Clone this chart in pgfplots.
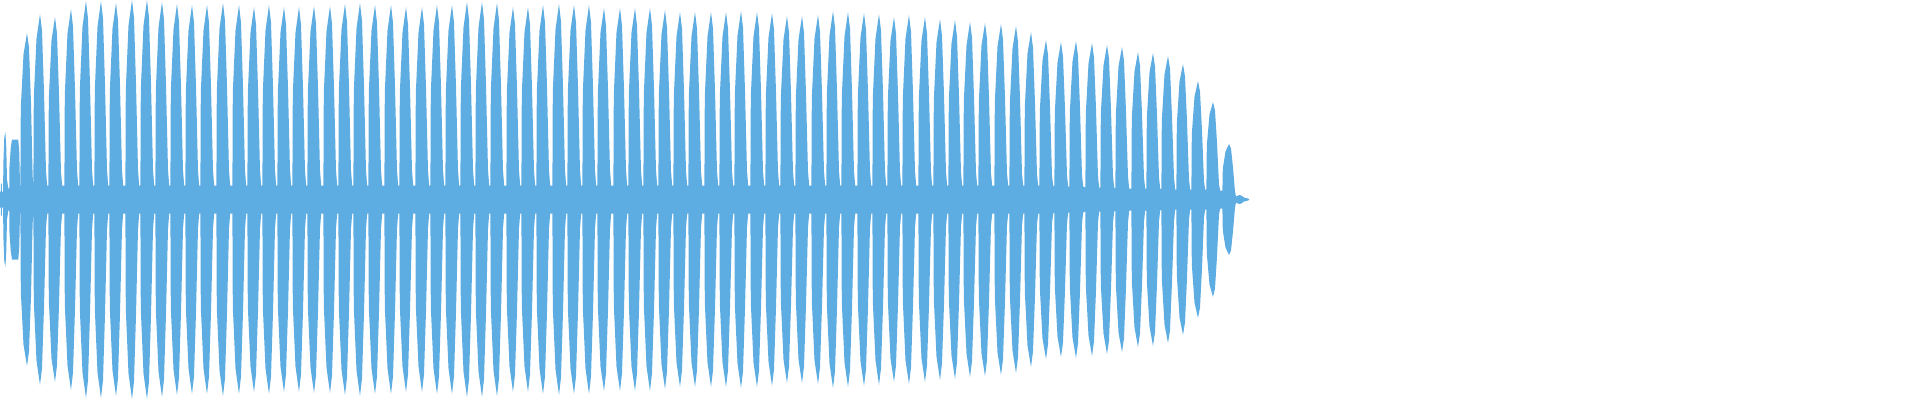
\documentclass[border=0pt]{standalone}
\usepackage{pgfplots}
\pgfplotsset{compat=1.18}
\usepackage{pgfplotstable}
\usepgfplotslibrary{fillbetween}
\definecolor{wavec}{HTML}{5DACE2}
\pgfplotstableread{
x a
0 8
0.8 8
1 16
1.8 16
2 8
3 8
3.5 40
4.3 62
5.3 67.5
6.2 55
7 20
8.5 10
9.3 12
9.5 33
10.7 51
12 60
18.3 60
19.3 47
20 14
20.4 14
20.8 92
23.5 145
27 166.5
29 152
31 97
32.6 25
33.2 14
33.4 14
33.8 102
36.5 161
40 185.5
42 169
44 108
46 28
47.2 14
48.4 14
48.8 100
51.5 159
55 182.5
57 166
59 106
61 27
62.2 14
64.4 14
64.8 105
67.5 166
71 190.5
73 173
75 110
77 29
78.2 14
79.4 14
79.8 109
82.5 173
86 198.5
88 181
90 115
92 30
93.2 14
94.4 14
94.8 109
97.5 173
101 198.5
103 181
105 115
107 30
108.2 14
109.4 14
109.8 108
112.5 171
116 196.5
118 179
120 114
122 29
123.2 14
125.4 14
125.8 110
128.5 174
132 199.5
134 182
136 116
138 30
139.2 14
140.4 14
140.8 110
143.5 174
147 199.5
149 182
151 116
153 30
154.2 14
155.4 14
155.8 109
158.5 172
162 197.5
164 180
166 115
168 30
169.2 14
170.4 14
170.8 108
173.5 170
177 195.5
179 178
181 113
183 29
184.2 14
185.4 14
185.8 107
188.5 169
192 194.5
194 177
196 113
198 29
199.2 14
200.4 14
200.8 107
203.5 169
207 194.5
209 177
211 113
213 29
214.2 14
216.4 14
216.8 108
219.5 171
223 196.5
225 179
227 114
229 29
230.2 14
232.4 14
232.8 107
235.5 169
239 194.5
241 177
243 113
245 29
246.2 14
247.4 14
247.8 106
250.5 167
254 192.5
256 175
258 112
260 29
261.2 14
262.4 14
262.8 107
265.5 169
269 194.5
271 177
273 113
275 29
276.2 14
277.4 14
277.8 106
280.5 167
284 192.5
286 175
288 112
290 29
291.2 14
292.4 14
292.8 106
295.5 167
299 192.5
301 175
303 112
305 29
306.2 14
307.4 14
307.8 106
310.5 168
314 193.5
316 176
318 112
320 29
321.2 14
323.4 14
323.8 106
326.5 168
330 193.5
332 176
334 112
336 29
337.2 14
338.4 14
338.8 108
341.5 170
345 195.5
347 178
349 113
351 29
352.2 14
353.4 14
353.8 108
356.5 171
360 196.5
362 179
364 114
366 29
367.2 14
368.4 14
368.8 107
371.5 169
375 194.5
377 177
379 113
381 29
382.2 14
384.4 14
384.8 107
387.5 169
391 194.5
393 177
395 113
397 29
398.2 14
399.4 14
399.8 106
402.5 167
406 192.5
408 175
410 112
412 29
413.2 14
415.4 14
415.8 106
418.5 167
422 192.5
424 175
426 112
428 29
429.2 14
430.4 14
430.8 107
433.5 169
437 194.5
439 177
441 113
443 29
444.2 14
445.4 14
445.8 107
448.5 169
452 194.5
454 177
456 113
458 29
459.2 14
460.4 14
460.8 109
463.5 172
467 197.5
469 180
471 115
473 30
474.2 14
475.4 14
475.8 109
478.5 172
482 197.5
484 180
486 115
488 30
489.2 14
490.4 14
490.8 108
493.5 171
497 196.5
499 179
501 114
503 29
504.2 14
506.4 14
506.8 106
509.5 167
513 192.5
515 175
517 112
519 29
520.2 14
521.4 14
521.8 106
524.5 167
528 192.5
530 175
532 112
534 29
535.2 14
536.4 14
536.8 107
539.5 169
543 194.5
545 177
547 113
549 29
550.2 14
552.4 14
552.8 108
555.5 170
559 195.5
561 178
563 113
565 29
566.2 14
567.4 14
567.8 107
570.5 169
574 194.5
576 177
578 113
580 29
581.2 14
582.4 14
582.8 107
585.5 169
589 194.5
591 177
593 113
595 29
596.2 14
597.4 14
597.8 105
600.5 167
604 191.5
606 174
608 111
610 29
611.2 14
613.4 14
613.8 105
616.5 167
620 191.5
622 174
624 111
626 29
627.2 14
628.4 14
628.8 105
631.5 167
635 191.5
637 174
639 111
641 29
642.2 14
643.4 14
643.8 105
646.5 167
650 191.5
652 174
654 111
656 29
657.2 14
658.4 14
658.8 104
661.5 165
665 189.5
667 172
669 110
671 28
672.2 14
673.4 14
673.8 103
676.5 163
680 187.5
682 171
684 109
686 28
687.2 14
688.4 14
688.8 103
691.5 163
695 187.5
697 171
699 109
701 28
702.2 14
704.4 14
704.8 103
707.5 163
711 187.5
713 171
715 109
717 28
718.2 14
719.4 14
719.8 103
722.5 163
726 187.5
728 171
730 109
732 28
733.2 14
734.4 14
734.8 104
737.5 164
741 188.5
743 172
745 109
747 28
748.2 14
750.4 14
750.8 103
753.5 163
757 187.5
759 171
761 109
763 28
764.2 14
765.4 14
765.8 103
768.5 162
772 186.5
774 170
776 108
778 28
779.2 14
780.4 14
780.8 101
783.5 160
787 183.5
789 167
791 106
793 28
794.2 14
795.4 14
795.8 101
798.5 160
802 183.5
804 167
806 106
808 28
809.2 14
811.4 14
811.8 101
814.5 161
818 184.5
820 168
822 107
824 28
825.2 14
826.4 14
826.8 104
829.5 164
833 188.5
835 172
837 109
839 28
840.2 14
841.4 14
841.8 103
844.5 163
848 187.5
850 171
852 109
854 28
855.2 14
857.4 14
857.8 103
860.5 162
864 186.5
866 170
868 108
870 28
871.2 14
872.4 14
872.8 102
875.5 161
879 185.5
881 169
883 108
885 28
886.2 14
887.4 14
887.8 100
890.5 159
894 182.5
896 166
898 106
900 27
901.2 14
902.4 14
902.8 101
905.5 161
909 184.5
911 168
913 107
915 28
916.2 14
918.4 14
918.8 100
921.5 159
925 182.5
927 166
929 106
931 27
932.2 14
933.4 14
933.8 99
936.5 157
940 180.5
942 164
944 105
946 27
947.2 14
948.4 14
948.8 99
951.5 156
955 179.5
957 163
959 104
961 27
962.2 14
963.4 14
963.8 98
966.5 154
970 177.5
972 162
974 103
976 27
977.2 14
978.4 14
978.8 97
981.5 154
985 176.5
987 161
989 102
991 26
992.2 14
994.4 14
994.8 97
997.5 153
1001 175.5
1003 160
1005 102
1007 26
1008.2 14
1009.4 14
1009.8 95
1012.5 151
1016 173.5
1018 158
1020 101
1022 26
1023.2 14
1024.4 14
1024.8 92
1027.5 146
1031 167.5
1033 152
1035 97
1037 25
1038.2 14
1039.4 14
1039.8 88
1042.5 139
1046 159.5
1048 145
1050 93
1052 24
1053.2 14
1054.4 13
1054.8 87
1057.5 137
1061 157.5
1063 143
1065 91
1067 24
1068.2 13
1069.4 13
1069.8 87
1072.5 138
1076 158.5
1078 144
1080 92
1082 24
1083.2 13
1085.4 12
1085.8 86
1088.5 136
1092 156.5
1094 142
1096 91
1098 23
1099.2 12
1100.4 12
1100.8 85
1103.5 134
1107 154.5
1109 141
1111 90
1113 23
1114.2 12
1115.4 11
1115.8 84
1118.5 133
1122 152.5
1124 139
1126 88
1128 23
1129.2 11
1131.4 11
1131.8 81
1134.5 128
1138 147.5
1140 134
1142 86
1144 22
1145.2 11
1146.4 11
1146.8 81
1149.5 127
1153 146.5
1155 133
1157 85
1159 22
1160.2 11
1161.4 10
1161.8 79
1164.5 125
1168 143.5
1170 131
1172 83
1174 22
1175.2 10
1176.4 10
1176.8 75
1179.5 118
1183 135.5
1185 123
1187 79
1189 20
1190.2 10
1191.4 10
1191.8 65
1194.5 103
1198 118.5
1200 108
1202 69
1204 18
1205.2 10
1206.4 10
1206.8 54
1209.5 85
1213 97.5
1215 89
1217 57
1219 15
1220.2 9
1222.4 9
1222.8 31
1225.5 48
1229 55.5
1231 51
1233 32
1235 8
1236 3
1238 4
1240 4.5
1242 3.5
1244 2
1248 1
1249 0.5
}\wave

\begin{document}
\begin{tikzpicture}
\begin{axis}[
  at={(0,0)}, anchor=south west,
  scale only axis, width=480pt, height=100pt,
  xmin=0, xmax=1920, ymin=-200.5, ymax=199.5,
  hide axis, clip=false,
]
\addplot[draw=none, name path=U] table[x=x, y=a] {\wave};
\addplot[draw=none, name path=L] table[x=x, y expr=-\thisrow{a}] {\wave};
\addplot[fill=wavec, draw=none] fill between[of=U and L];
\end{axis}
\pgfresetboundingbox
\useasboundingbox (0,0) rectangle (480pt,100pt);
\end{tikzpicture}
\end{document}
